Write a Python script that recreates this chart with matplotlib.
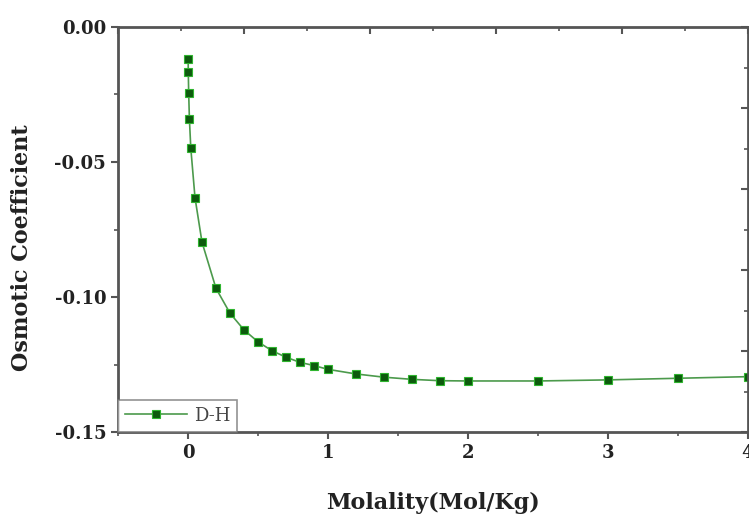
import matplotlib
matplotlib.use("Agg")
import matplotlib.pyplot as plt
from matplotlib.ticker import MultipleLocator, FuncFormatter

# Data
molality = [0.001, 0.002, 0.005, 0.01, 0.02, 0.05, 0.1, 0.2, 0.3, 0.4, 0.5, 0.6,
            0.7, 0.8, 0.9, 1.0, 1.2, 1.4, 1.6, 1.8, 2.0, 2.5, 3.0, 3.5, 4.0]
osmotic = [-0.0119, -0.0165, -0.0246, -0.0341, -0.0449, -0.0632, -0.0797, -0.0968,
           -0.1060, -0.1122, -0.1166, -0.1199, -0.1223, -0.1242, -0.1254, -0.1268,
           -0.1285, -0.1297, -0.1305, -0.1310, -0.1311, -0.1311, -0.1307, -0.1301,
           -0.1295]
series_label = "D-H"
x_label = "Molality(Mol/Kg)"
y_label = "Osmotic Coefficient"
x_ticks = [0, 1, 2, 3, 4]
y_ticks = [0.00, -0.05, -0.10, -0.15]

serif = "DejaVu Serif"
spine_col = "#555555"

fig = plt.figure(figsize=(7.49, 5.15), dpi=100)
ax = fig.add_axes([118 / 749, 1 - 432 / 515, 630 / 749, 405 / 515])

ax.plot(molality, osmotic, color="#4c9a4c", lw=1.2, marker="s", markersize=6,
        markerfacecolor="#0d5a0d", markeredgecolor="#2fb52f", markeredgewidth=0.8,
        label=series_label)

ax.set_xlim(-0.5, 4.0)
ax.set_ylim(-0.15, 0.0)
ax.set_xticks(x_ticks)
ax.set_yticks(y_ticks)
ax.xaxis.set_minor_locator(MultipleLocator(0.5))
ax.yaxis.set_minor_locator(MultipleLocator(0.025))
ax.yaxis.set_major_formatter(FuncFormatter(lambda v, p: f"{v:.2f}".replace("\u2212", "-")))
ax.xaxis.set_major_formatter(FuncFormatter(lambda v, p: f"{v:g}"))

ax.tick_params(axis="both", which="major", direction="out", length=5, width=1.5,
               color=spine_col, top=False, right=False)
ax.tick_params(axis="both", which="minor", direction="out", length=3, width=1.2,
               color=spine_col, top=False, right=False)
for lab in ax.get_xticklabels() + ax.get_yticklabels():
    lab.set_fontfamily(serif)
    lab.set_fontweight("bold")
    lab.set_fontsize(13)
    lab.set_color("#222222")

for s in ax.spines.values():
    s.set_color(spine_col)
    s.set_linewidth(2)

# top and right ticks (independent inward ticks as in the reference)
axt = ax.twiny()
axt.set_xlim(0, 10)
axt.xaxis.set_major_locator(MultipleLocator(2))
axt.xaxis.set_minor_locator(MultipleLocator(1))
axt.tick_params(axis="x", which="both", direction="in", labeltop=False, color=spine_col)
axt.tick_params(axis="x", which="major", length=5, width=1.5)
axt.tick_params(axis="x", which="minor", length=3, width=1.2)
axr = ax.twinx()
axr.set_ylim(0, 10)
axr.yaxis.set_major_locator(MultipleLocator(2))
axr.yaxis.set_minor_locator(MultipleLocator(1))
axr.tick_params(axis="y", which="both", direction="in", labelright=False, color=spine_col)
axr.tick_params(axis="y", which="major", length=5, width=1.5)
axr.tick_params(axis="y", which="minor", length=3, width=1.2)
for a in (axt, axr):
    for s in a.spines.values():
        s.set_visible(False)

ax.set_xlabel(x_label, fontfamily=serif, fontweight="bold", fontsize=16,
              color="#222222", labelpad=22)
ax.set_ylabel(y_label, fontfamily=serif, fontweight="bold", fontsize=16,
              color="#222222")
ax.yaxis.set_label_coords(-0.135, 0.454)

leg = ax.legend(loc="lower left", borderaxespad=0, frameon=True, fancybox=False,
                prop={"family": serif, "size": 13}, handlelength=3.4,
                borderpad=0.4, handletextpad=0.4)
leg.get_frame().set_edgecolor("#777777")
leg.get_frame().set_linewidth(1.2)
for t in leg.get_texts():
    t.set_color("#444444")

fig.savefig("out.png", dpi=100)
